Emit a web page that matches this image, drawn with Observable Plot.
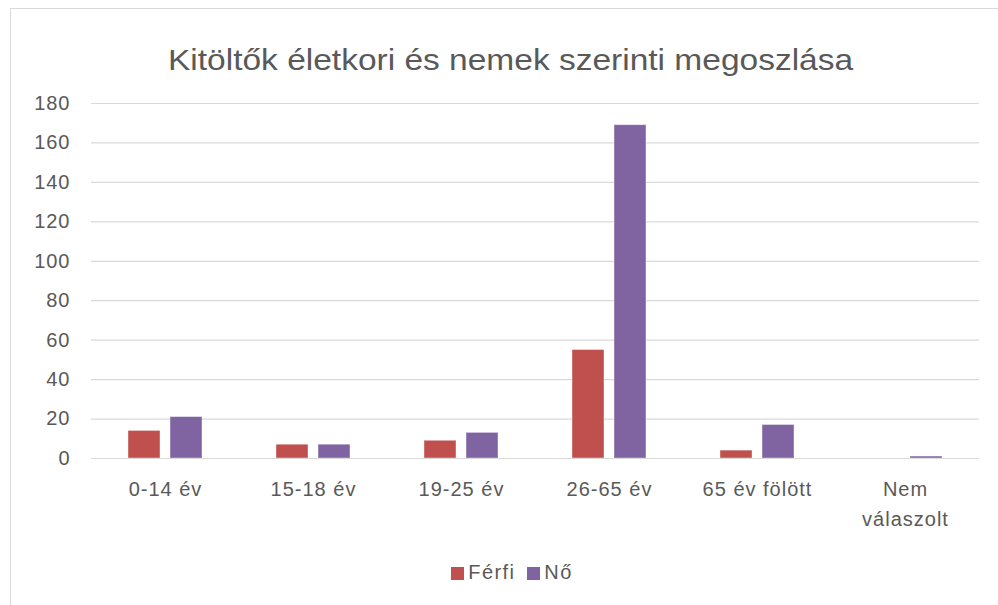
<!DOCTYPE html>
<html>
<head>
<meta charset="utf-8">
<script src="https://cdn.jsdelivr.net/npm/d3@7"></script>
<script src="https://cdn.jsdelivr.net/npm/@observablehq/plot@0.6"></script>
<style>
  html, body { margin: 0; padding: 0; background: #fff; }
  body { width: 998px; height: 605px; position: relative; overflow: hidden; font-family: "Liberation Sans", Arial, sans-serif; }
  #frame { position: absolute; left: 10px; top: 8px; width: 996px; height: 610px; border: 1px solid #d9d9d9; box-sizing: border-box; }
  #title { position: absolute; left: 168px; top: 44px; white-space: nowrap; font-size: 29px; color: #595959; transform-origin: 0 0; transform: scaleX(1.155); }
  #chart { position: absolute; left: 0; top: 80px; }
  #legend { position: absolute; left: 0; top: 561px; width: 998px; padding-left: 26px; box-sizing: border-box; text-align: center; font-size: 20px; color: #595959; letter-spacing: 1.4px; }
  .sw { display: inline-block; width: 13px; height: 13px; margin-right: 4px; vertical-align: -1px; }
  .item { margin: 0 6px; }
</style>
</head>
<body>
<div id="frame"></div>
<div id="title">Kitöltők életkori és nemek szerinti megoszlása</div>
<div id="chart"></div>
<div id="legend"></div>
<script>
const categories = ["0-14 év", "15-18 év", "19-25 év", "26-65 év", "65 év fölött", "Nem\nválaszolt"];
const series = ["Férfi", "Nő"];
const ferfi = [14, 7, 9, 55, 4, 0];
const no = [21, 7, 13, 169, 17, 1];
const colors = ["#C0504D", "#8064A2"];
const yTicks = [0, 20, 40, 60, 80, 100, 120, 140, 160, 180];

const data = [];
categories.forEach((c, i) => {
  data.push({category: c, series: series[0], value: ferfi[i]});
  data.push({category: c, series: series[1], value: no[i]});
});

const plot = Plot.plot({
  width: 998,
  height: 460,
  marginLeft: 90,
  marginRight: 18,
  marginTop: 23,
  marginBottom: 82,
  style: {fontFamily: "'Liberation Sans', Arial, sans-serif", fontSize: "20px", color: "#595959", background: "transparent", letterSpacing: "1px"},
  fx: {domain: categories, padding: 0, label: null},
  x: {domain: series, paddingInner: 0.23, paddingOuter: 0.84, axis: null},
  y: {domain: [0, 180], ticks: yTicks, label: null},
  color: {domain: series, range: colors},
  marks: [
    Plot.gridY(yTicks, {stroke: "#d9d9d9", strokeOpacity: 1, strokeWidth: 1.2}),
    Plot.axisY(yTicks, {tickSize: 0, tickPadding: 21, fill: "#595959", label: null, fontSize: 20}),
    Plot.axisFx({anchor: "bottom", tickSize: 0, tickPadding: 16, fill: "#595959", label: null, fontSize: 20, lineHeight: 1.5}),
    Plot.barY(data, {fx: "category", x: "series", y: "value", fill: "series", stroke: "#ffffff", strokeOpacity: 0.5, strokeWidth: 0.8}),
    Plot.ruleY([0], {stroke: "#d9d9d9", strokeWidth: 1.2})
  ]
});
document.getElementById("chart").appendChild(plot);

const legend = document.getElementById("legend");
series.forEach((s, i) => {
  const span = document.createElement("span");
  span.className = "item";
  span.innerHTML = `<span class="sw" style="background:${colors[i]}"></span>${s}`;
  legend.appendChild(span);
});
</script>
</body>
</html>
